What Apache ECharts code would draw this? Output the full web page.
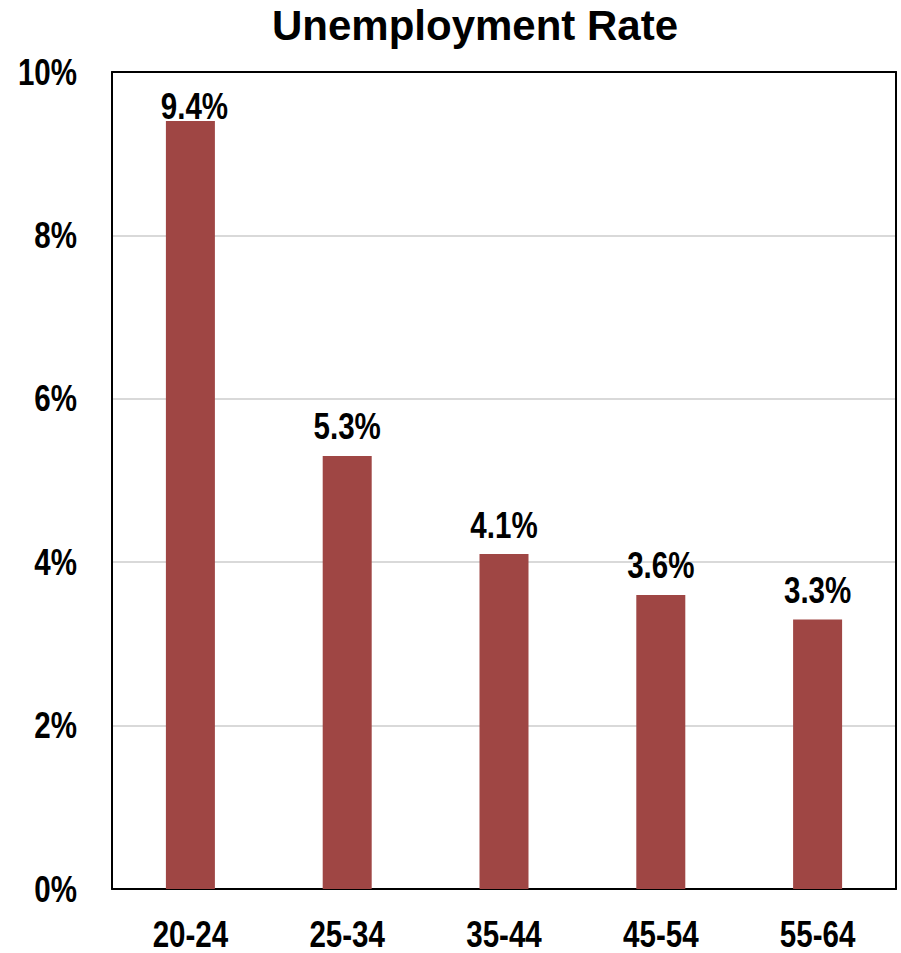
<!DOCTYPE html>
<html>
<head>
<meta charset="utf-8">
<style>
  html, body { margin: 0; padding: 0; background: #ffffff; }
  #chart { width: 901px; height: 953px; }
</style>
<script src="https://cdn.jsdelivr.net/npm/echarts@6/dist/echarts.min.js"></script>
</head>
<body>
<div id="chart"></div>
<script>
const titleText = 'Unemployment Rate';
const categories = ['20-24', '25-34', '35-44', '45-54', '55-64'];
const rates = [9.4, 5.3, 4.1, 3.6, 3.3];
const yTicks = [0, 2, 4, 6, 8, 10];

const regular = '"Liberation Sans", Arial, sans-serif';
const labelSize = 36;
const narrowFactor = 0.82; // Arial Narrow width relative to Arial

const chart = echarts.init(document.getElementById('chart'), null, { renderer: 'svg' });

const barData = rates.map((v, i) => {
  if (i === 0) {
    return { value: v, label: { distance: -3, offset: [4, 0] } };
  }
  return v;
});

const labelStyle = {
  fontFamily: regular,
  fontWeight: 'bold',
  fontSize: labelSize,
  color: '#000000'
};

chart.setOption({
  animation: false,
  backgroundColor: '#ffffff',
  title: {
    text: titleText,
    left: 470,
    top: -1,
    textAlign: 'center',
    textStyle: {
      fontFamily: regular,
      fontWeight: 'bold',
      fontSize: 42,
      color: '#000000'
    }
  },
  grid: {
    left: 112,
    right: 5,
    top: 72,
    bottom: 64,
    show: false,
    containLabel: false
  },
  xAxis: [{
    type: 'category',
    data: categories,
    position: 'bottom',
    axisLine: { show: true, lineStyle: { color: '#000000', width: 2 } },
    axisTick: { show: false },
    axisLabel: Object.assign({ margin: 29, lineHeight: 32 }, labelStyle),
    splitLine: { show: false }
  }, {
    type: 'category',
    data: categories,
    position: 'top',
    axisLine: { show: true, onZero: false, lineStyle: { color: '#000000', width: 2 } },
    axisTick: { show: false },
    axisLabel: { show: false },
    splitLine: { show: false }
  }],
  yAxis: [{
    type: 'value',
    min: yTicks[0],
    max: yTicks[yTicks.length - 1],
    interval: yTicks[1] - yTicks[0],
    position: 'left',
    axisLine: { show: true, lineStyle: { color: '#000000', width: 2 } },
    axisTick: { show: false },
    axisLabel: Object.assign({ margin: 35, formatter: v => v + '%' }, labelStyle),
    splitLine: { show: true, lineStyle: { color: '#D9D9D9', width: 2 } }
  }, {
    type: 'value',
    min: yTicks[0],
    max: yTicks[yTicks.length - 1],
    interval: yTicks[1] - yTicks[0],
    position: 'right',
    axisLine: { show: true, onZero: false, lineStyle: { color: '#000000', width: 2 } },
    axisTick: { show: false },
    axisLabel: { show: false },
    splitLine: { show: false }
  }],
  series: [{
    type: 'bar',
    xAxisIndex: 0,
    yAxisIndex: 0,
    data: barData,
    barWidth: 49,
    itemStyle: { color: '#9F4644' },
    label: Object.assign({
      show: true,
      position: 'top',
      distance: 11,
      formatter: p => p.value.toFixed(1) + '%'
    }, labelStyle)
  }]
});

// Condense the 36px label texts horizontally to imitate a narrow bold face.
function condenseLabels() {
  const texts = document.querySelectorAll('#chart svg text');
  texts.forEach(t => {
    if (t.dataset.condensed) return;
    const st = (t.getAttribute('style') || '') + ' ' + (t.getAttribute('font-size') || '');
    if (st.indexOf(labelSize + 'px') === -1) return;
    const len = t.getComputedTextLength();
    if (!len) return;
    t.setAttribute('textLength', (len * narrowFactor).toFixed(2));
    t.setAttribute('lengthAdjust', 'spacingAndGlyphs');
    t.dataset.condensed = '1';
  });
}
chart.on('finished', condenseLabels);
setTimeout(condenseLabels, 50);
setTimeout(condenseLabels, 300);
</script>
</body>
</html>
